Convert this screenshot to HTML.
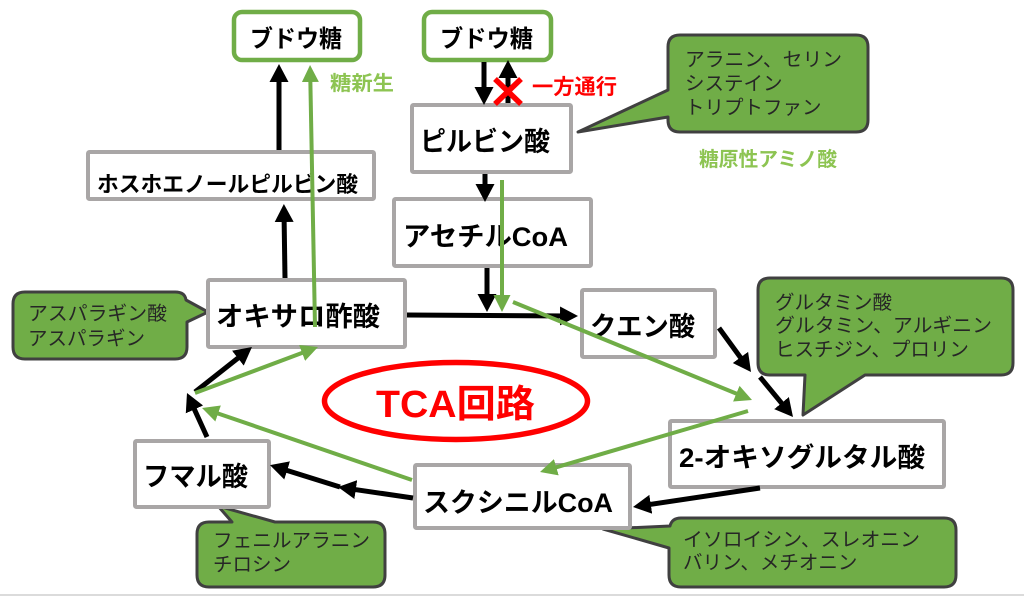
<!DOCTYPE html>
<html><head><meta charset="utf-8">
<style>
html,body{margin:0;padding:0;background:#fff;}
svg{display:block;}
.b{font-family:"Liberation Sans","Noto Sans CJK JP",sans-serif;font-weight:bold;fill:#000;}
.c{font-family:"Liberation Sans","Noto Sans CJK JP",sans-serif;font-size:19.5px;fill:#262626;}
.box{fill:#fff;stroke:#a9a6a6;stroke-width:4;}
.gbox{fill:#fff;stroke:#70ad47;stroke-width:4.5;}
.call{fill:#70ad47;stroke:#404040;stroke-width:3;stroke-linejoin:round;}
.k{stroke:#000;stroke-width:5;fill:none;}
.g{stroke:#70ad47;stroke-width:4;fill:none;}
</style></head>
<body>
<svg width="1024" height="596" viewBox="0 0 1024 596" xmlns="http://www.w3.org/2000/svg">
<defs>
<marker id="ak" markerUnits="userSpaceOnUse" markerWidth="20" markerHeight="20" viewBox="0 -10 20 20" refX="10" refY="0" orient="auto">
<path d="M0,-9.5 L18,0 L0,9.5 z" fill="#000"/>
</marker>
<marker id="ag" markerUnits="userSpaceOnUse" markerWidth="20" markerHeight="20" viewBox="0 -10 20 20" refX="9" refY="0" orient="auto">
<path d="M0,-8.5 L17,0 L0,8.5 z" fill="#70ad47"/>
</marker>
</defs>

<!-- bottom border line -->
<line x1="0" y1="595" x2="1024" y2="595" stroke="#cfcfcf" stroke-width="1.5"/>

<!-- callouts -->
<path class="call" d="M680 35 H856 Q868 35 868 47 V120 Q868 132 856 132 H680 Q668 132 668 120 V117 L578 132 L668 90 V47 Q668 35 680 35 Z"/>
<path class="call" d="M770 278 H1001 Q1013 278 1013 290 V363 Q1013 375 1001 375 H865 L803 415 L805 375 H770 Q758 375 758 363 V290 Q758 278 770 278 Z"/>
<path class="call" d="M681 518 H944 Q956 518 956 530 V575 Q956 587 944 587 H681 Q669 587 669 575 V548 L603 529 L670 526 Q672 518 681 518 Z"/>
<path class="call" d="M209 522 H232 L218 506 L275 522 H373 Q385 522 385 534 V575 Q385 587 373 587 H209 Q197 587 197 575 V534 Q197 522 209 522 Z"/>
<path class="call" d="M25 292 H175 Q185 292 186 300 L208 312 L187 322 V347 Q187 359 175 359 H25 Q13 359 13 347 V304 Q13 292 25 292 Z"/>

<text class="c" x="685" y="66" textLength="157" lengthAdjust="spacingAndGlyphs">アラニン、セリン</text>
<text class="c" x="685" y="90">システイン</text>
<text class="c" x="685" y="114">トリプトファン</text>

<text class="c" x="775" y="309">グルタミン酸</text>
<text class="c" x="775" y="332" textLength="217" lengthAdjust="spacingAndGlyphs">グルタミン、アルギニン</text>
<text class="c" x="775" y="356">ヒスチジン、プロリン</text>

<text class="c" x="683" y="546" textLength="237" lengthAdjust="spacingAndGlyphs">イソロイシン、スレオニン</text>
<text class="c" x="683" y="569">バリン、メチオニン</text>

<text class="c" x="213" y="547" textLength="157" lengthAdjust="spacingAndGlyphs">フェニルアラニン</text>
<text class="c" x="213" y="571">チロシン</text>

<text class="c" x="28" y="320" textLength="139" lengthAdjust="spacingAndGlyphs">アスパラギン酸</text>
<text class="c" x="28" y="345">アスパラギン</text>

<!-- boxes -->
<rect class="gbox" x="234" y="12" width="126" height="48" rx="8"/>
<rect class="gbox" x="424" y="12" width="127" height="48" rx="8"/>
<rect class="box" x="88" y="152" width="286" height="47" rx="1.5"/>
<rect class="box" x="412" y="105" width="159" height="67" rx="1.5"/>
<rect class="box" x="394" y="199" width="197" height="67" rx="1.5"/>
<rect class="box" x="208" y="280" width="197" height="67" rx="1.5"/>
<rect class="box" x="582" y="290" width="133" height="67" rx="1.5"/>
<rect class="box" x="670" y="421" width="274" height="66" rx="1.5"/>
<rect class="box" x="415" y="465" width="215" height="63" rx="1.5"/>
<rect class="box" x="135" y="441" width="134" height="66" rx="1.5"/>

<!-- box labels -->
<text class="b" x="250" y="47" font-size="24" textLength="92" lengthAdjust="spacingAndGlyphs">ブドウ糖</text>
<text class="b" x="440" y="47" font-size="24" textLength="93" lengthAdjust="spacingAndGlyphs">ブドウ糖</text>
<text class="b" x="97" y="192" font-size="22" textLength="261" lengthAdjust="spacingAndGlyphs">ホスホエノールピルビン酸</text>
<text class="b" x="420" y="151" font-size="27" textLength="130" lengthAdjust="spacingAndGlyphs">ピルビン酸</text>
<text class="b" x="403" y="246" font-size="27" textLength="165" lengthAdjust="spacingAndGlyphs">アセチルCoA</text>
<text class="b" x="216" y="326" font-size="27" textLength="164" lengthAdjust="spacingAndGlyphs">オキサロ酢酸</text>
<text class="b" x="590" y="336" font-size="27" textLength="105" lengthAdjust="spacingAndGlyphs">クエン酸</text>
<text class="b" x="679" y="467" font-size="27" textLength="246" lengthAdjust="spacingAndGlyphs">2-オキソグルタル酸</text>
<text class="b" x="423" y="512" font-size="27" textLength="190" lengthAdjust="spacingAndGlyphs">スクシニルCoA</text>
<text class="b" x="143" y="486" font-size="27" textLength="105" lengthAdjust="spacingAndGlyphs">フマル酸</text>

<!-- side labels -->
<text class="b" x="330" y="90" font-size="20" fill="#8dc452" style="fill:#8dc452" textLength="64" lengthAdjust="spacingAndGlyphs">糖新生</text>
<text class="b" x="532" y="94" font-size="21" style="fill:#ff0000" textLength="85" lengthAdjust="spacingAndGlyphs">一方通行</text>
<text class="b" x="699" y="166" font-size="20" style="fill:#8dc452" textLength="138" lengthAdjust="spacingAndGlyphs">糖原性アミノ酸</text>

<!-- TCA ellipse -->
<ellipse cx="456" cy="401" rx="131.5" ry="38.5" fill="none" stroke="#ff0000" stroke-width="5.5"/>
<text class="b" x="376" y="417" font-size="38" style="fill:#ff0000" textLength="159" lengthAdjust="spacingAndGlyphs">TCA回路</text>

<!-- black arrows -->
<line class="k" x1="279" y1="150" x2="279" y2="72" marker-end="url(#ak)"/>
<line class="k" x1="285" y1="278" x2="284" y2="212" marker-end="url(#ak)"/>
<line class="k" x1="484" y1="62" x2="484" y2="97" marker-end="url(#ak)"/>
<line class="k" x1="508" y1="103" x2="508" y2="68" marker-end="url(#ak)"/>
<line class="k" x1="485" y1="174" x2="485" y2="194" marker-end="url(#ak)"/>
<line class="k" x1="487" y1="268" x2="487" y2="304" marker-end="url(#ak)"/>
<line class="k" x1="407" y1="315" x2="570" y2="316" marker-end="url(#ak)"/>
<line class="k" x1="719" y1="328" x2="746.3" y2="365.5" marker-end="url(#ak)"/>
<line class="k" x1="760" y1="377" x2="787.9" y2="410.8" marker-end="url(#ak)"/>
<line class="k" x1="760" y1="488" x2="640.9" y2="505.8" marker-end="url(#ak)"/>
<line class="k" x1="413" y1="498" x2="345.9" y2="488.2" marker-end="url(#ak)"/>
<line class="k" x1="340" y1="487" x2="277.6" y2="467.5" marker-end="url(#ak)"/>
<line class="k" x1="207" y1="437" x2="190.3" y2="400.3" marker-end="url(#ak)"/>
<line class="k" x1="195" y1="392" x2="245.7" y2="352" marker-end="url(#ak)"/>

<!-- green arrows -->
<line class="g" x1="315" y1="327" x2="310.2" y2="73" marker-end="url(#ag)"/>
<line class="g" x1="502" y1="180" x2="502" y2="304" marker-end="url(#ag)"/>
<line class="g" x1="513" y1="302" x2="744.6" y2="397" marker-end="url(#ag)"/>
<line class="g" x1="748" y1="411" x2="547.7" y2="469.8" marker-end="url(#ag)"/>
<line class="g" x1="412" y1="480" x2="209.6" y2="410.6" marker-end="url(#ag)"/>
<line class="g" x1="195" y1="393" x2="310.5" y2="349.8" marker-end="url(#ag)"/>

<!-- red X -->
<line x1="495" y1="79" x2="521" y2="104" stroke="#ff0000" stroke-width="5.5"/>
<line x1="521" y1="79" x2="495" y2="104" stroke="#ff0000" stroke-width="5.5"/>
</svg>
</body></html>
